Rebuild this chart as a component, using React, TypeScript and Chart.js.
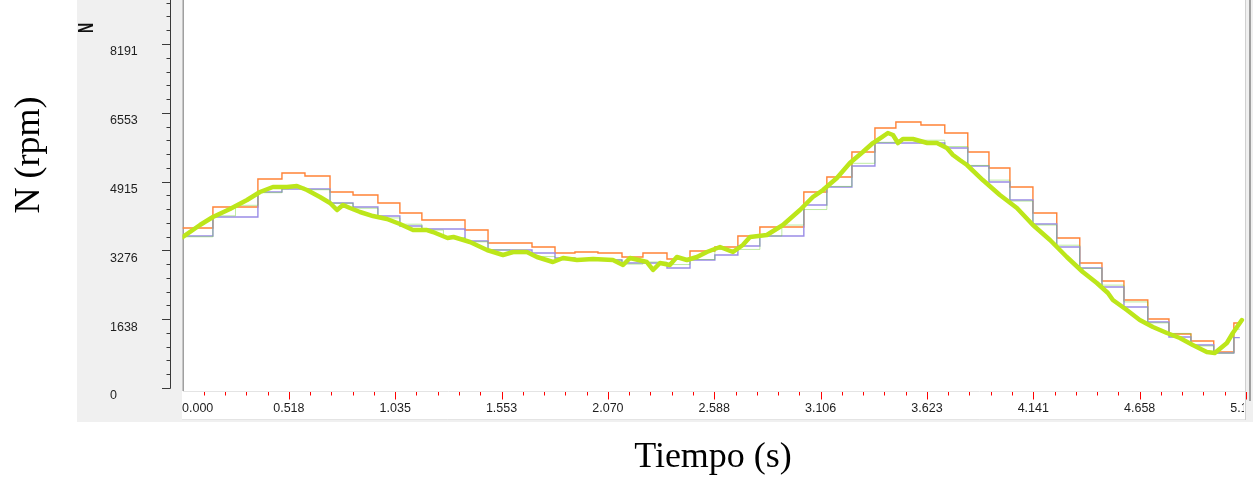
import React, { useEffect, useRef } from "react";
import { Chart, registerables } from "chart.js";

Chart.register(...registerables);

// ---- data (time in s, speed in rpm) ----
const stepTimes = [
  0, 0.148, 0.258, 0.367, 0.484, 0.596, 0.718, 0.83, 0.951, 1.058, 1.165, 1.27,
  1.375, 1.487, 1.594, 1.701, 1.813, 1.91, 2.022, 2.139, 2.241, 2.358, 2.47, 2.591,
  2.703, 2.81, 2.917, 3.024, 3.136, 3.258, 3.37, 3.472, 3.594, 3.71, 3.822, 3.925,
  4.027, 4.139, 4.255, 4.367, 4.475, 4.582, 4.698, 4.801, 4.908, 5.019, 5.117, 5.146,
];
const orangeN = [
  3810, 4310, 4310, 4976, 5119, 5048, 4667, 4595, 4405, 4167, 4000, 4000,
  3762, 3452, 3452, 3357, 3214, 3238, 3214, 3119, 3214, 3071, 3262, 3357,
  3619, 3833, 3833, 4667, 5024, 5619, 6191, 6333, 6262, 6072, 5619, 5238,
  4786, 4167, 3571, 2976, 2548, 2095, 1643, 1286, 1119, 857, 1548, 1548,
];
const purpleN = [
  3619, 4072, 4072, 4667, 4738, 4738, 4405, 4310, 4095, 3857, 3786, 3786,
  3500, 3286, 3286, 3214, 3095, 3048, 3048, 2976, 2976, 2857, 3048, 3167,
  3381, 3619, 3619, 4357, 4786, 5286, 5833, 5833, 5833, 5714, 5286, 4905,
  4476, 3905, 3357, 2857, 2405, 1929, 1571, 1214, 1024, 833, 1200, 1200,
];
const thinGreenN = [
  3600, 4100, 4350, 4650, 4780, 4720, 4400, 4280, 4050, 3900, 3760, 3580,
  3480, 3290, 3200, 3130, 3050, 3060, 3050, 2950, 3000, 2940, 3060, 3300,
  3300, 3620, 3880, 4250, 4800, 5350, 5850, 5900, 5900, 5750, 5300, 4950,
  4450, 3880, 3400, 2850, 2450, 2050, 1550, 1300, 1000, 830, 1400, 1400,
];
const greenT = [
  0, 0.085, 0.148, 0.231, 0.314, 0.377, 0.44, 0.509, 0.557, 0.606, 0.669, 0.718,
  0.752, 0.781, 0.815, 0.864, 0.927, 0.995, 1.058, 1.122, 1.19, 1.219, 1.29, 1.319,
  1.399, 1.482, 1.56, 1.609, 1.676, 1.725, 1.803, 1.852, 1.92, 1.998, 2.095, 2.144,
  2.178, 2.26, 2.29, 2.324, 2.372, 2.406, 2.455, 2.504, 2.552, 2.616, 2.679, 2.727,
  2.762, 2.844, 2.922, 3.005, 3.068, 3.117, 3.185, 3.248, 3.311, 3.36, 3.404, 3.433,
  3.458, 3.482, 3.506, 3.555, 3.625, 3.672, 3.72, 3.75, 3.783, 3.818, 3.895, 3.978,
  4.061, 4.139, 4.222, 4.304, 4.382, 4.45, 4.504, 4.528, 4.596, 4.659, 4.723, 4.791,
  4.854, 4.917, 4.985, 5.024, 5.083, 5.112, 5.156,
];
const greenN = [
  3595, 3881, 4072, 4262, 4476, 4667, 4786, 4786, 4810, 4714, 4548, 4405,
  4238, 4357, 4286, 4191, 4095, 4024, 3905, 3762, 3762, 3714, 3571, 3595,
  3476, 3286, 3167, 3238, 3238, 3119, 3000, 3095, 3048, 3071, 3048, 2929,
  3095, 3000, 2810, 2976, 2929, 3119, 3048, 3119, 3238, 3357, 3238, 3405,
  3595, 3643, 3881, 4238, 4548, 4714, 5000, 5357, 5619, 5833, 5976, 6072,
  6024, 5833, 5929, 5929, 5833, 5833, 5714, 5548, 5429, 5310, 4952, 4595,
  4286, 3881, 3524, 3119, 2762, 2500, 2262, 2095, 1857, 1619, 1452, 1310,
  1190, 1024, 857, 833, 1071, 1310, 1619,
];
const yTickValues = [0, 1638.2, 3276.4, 4914.6, 6552.8, 8191];
const yTickLabels = ["0", "1638", "3276", "4915", "6553", "8191"];
const xTickLabels = [
  "0.000", "0.518", "1.035", "1.553", "2.070", "2.588",
  "3.106", "3.623", "4.141", "4.658", "5.176",
];
const X_MAX = 5.176;
const Y_MAX = 9239;

const toPts = (xs: number[], ys: number[]) => xs.map((x, i) => ({ x, y: ys[i] }));

function seg(ctx: CanvasRenderingContext2D, x1: number, y1: number, x2: number, y2: number) {
  ctx.beginPath();
  ctx.moveTo(x1, y1);
  ctx.lineTo(x2, y2);
  ctx.stroke();
}

const framePlugin = {
  id: "frame",
  beforeDraw(chart: any) {
    const ctx: CanvasRenderingContext2D = chart.ctx;
    ctx.save();
    ctx.fillStyle = "#ffffff";
    ctx.fillRect(0, 0, 1253, 479);
    ctx.fillStyle = "#f0f0f0";
    ctx.fillRect(77, 0, 1176, 422);
    ctx.fillStyle = "#ffffff";
    ctx.fillRect(182, 0, 1063, 419);
    ctx.lineWidth = 1;
    ctx.strokeStyle = "#e4e4e4";
    seg(ctx, 183, 391.5, 1245, 391.5);
    seg(ctx, 182, 419.5, 1245, 419.5);
    ctx.strokeStyle = "#d0d0d0";
    seg(ctx, 1245.5, 0, 1245.5, 420);
    ctx.strokeStyle = "#a0a0a0";
    ctx.lineWidth = 2;
    seg(ctx, 1250, 0, 1250, 401);
    ctx.lineWidth = 1.6;
    seg(ctx, 183.2, 0, 183.2, 391);
    ctx.restore();
  },
  afterDraw(chart: any) {
    const ctx: CanvasRenderingContext2D = chart.ctx;
    const xs = chart.scales.x;
    const ys = chart.scales.y;
    ctx.save();
    // y axis
    ctx.strokeStyle = "#3a3a3a";
    ctx.lineWidth = 1;
    const y0 = Math.round(ys.getPixelForValue(0)) + 0.5;
    seg(ctx, 170.5, 0, 170.5, y0);
    const yStep = 8191 / 25;
    for (let i = 0; i * yStep <= Y_MAX; i++) {
      const py = Math.round(ys.getPixelForValue(i * yStep)) + 0.5;
      seg(ctx, i % 5 === 0 ? 162 : 166.5, py, 170.5, py);
    }
    ctx.fillStyle = "#1e1e1e";
    ctx.font = '12.5px "Liberation Sans", Arial, sans-serif';
    ctx.textAlign = "left";
    ctx.textBaseline = "middle";
    yTickValues.forEach((v, i) => {
      const py = ys.getPixelForValue(v);
      ctx.fillText(yTickLabels[i], 110, py + 8);
    });
    // x axis
    ctx.strokeStyle = "#ff0000";
    const xStep = X_MAX / 50;
    for (let i = 1; i <= 50; i++) {
      const px = Math.round(xs.getPixelForValue(i * xStep)) + 0.5;
      seg(ctx, px, 392, px, i % 5 === 0 ? 399.5 : 395.5);
    }
    ctx.save();
    ctx.beginPath();
    ctx.rect(182, 392, 1062, 27);
    ctx.clip();
    ctx.fillStyle = "#1e1e1e";
    ctx.font = '12.5px "Liberation Sans", Arial, sans-serif';
    xTickLabels.forEach((lab, i) => {
      const px = xs.getPixelForValue((i * X_MAX) / 10);
      if (i === 0) {
        ctx.textAlign = "left";
        ctx.fillText(lab, 182, 408.5);
      } else {
        ctx.textAlign = "center";
        ctx.fillText(lab, px, 408.5);
      }
    });
    ctx.restore();
    // small rotated N
    ctx.save();
    ctx.translate(87, 28);
    ctx.rotate(-Math.PI / 2);
    ctx.scale(1, 1.55);
    ctx.fillStyle = "#111111";
    ctx.font = 'bold 14px "Liberation Sans", Arial, sans-serif';
    ctx.textAlign = "center";
    ctx.textBaseline = "middle";
    ctx.fillText("N", 0, 0);
    ctx.restore();
    // titles
    ctx.fillStyle = "#000000";
    ctx.font = '36px "Liberation Serif", "Times New Roman", serif';
    ctx.textAlign = "center";
    ctx.textBaseline = "middle";
    ctx.fillText("Tiempo (s)", 713, 458);
    ctx.save();
    ctx.translate(30, 155);
    ctx.rotate(-Math.PI / 2);
    ctx.fillText("N (rpm)", 0, 0);
    ctx.restore();
    ctx.restore();
  },
};

export default function App() {
  const ref = useRef<HTMLCanvasElement>(null);
  useEffect(() => {
    if (!ref.current) return;
    const chart = new Chart(ref.current, {
      type: "line",
      data: {
        datasets: [
          {
            label: "N",
            data: toPts(greenT, greenN),
            borderColor: "#bce61a",
            borderWidth: 4.5,
            borderJoinStyle: "round",
            borderCapStyle: "round",
            pointRadius: 0,
            tension: 0,
          },
          {
            label: "N ref",
            data: toPts(stepTimes, thinGreenN),
            borderColor: "rgba(110,210,50,0.45)",
            borderWidth: 1,
            pointRadius: 0,
            stepped: true,
          },
          {
            label: "N min",
            data: toPts(stepTimes, purpleN),
            borderColor: "#9a8ce6",
            borderWidth: 1.4,
            pointRadius: 0,
            stepped: true,
          },
          {
            label: "N max",
            data: toPts(stepTimes, orangeN),
            borderColor: "#ff8236",
            borderWidth: 1.4,
            pointRadius: 0,
            stepped: true,
          },
        ],
      },
      options: {
        responsive: false,
        maintainAspectRatio: false,
        devicePixelRatio: 1,
        animation: false,
        layout: { padding: { left: 182.5, right: 7, top: 0, bottom: 91 } },
        scales: {
          x: { type: "linear", min: 0, max: X_MAX, display: false },
          y: { type: "linear", min: 0, max: Y_MAX, display: false },
        },
        plugins: { legend: { display: false }, tooltip: { enabled: false } },
      },
      plugins: [framePlugin],
    } as any);
    return () => chart.destroy();
  }, []);
  return (
    <div style={{ position: "fixed", left: 0, top: 0, width: 1253, height: 479, background: "#fff" }}>
      <canvas ref={ref} width={1253} height={479} style={{ display: "block", width: 1253, height: 479 }} />
    </div>
  );
}
